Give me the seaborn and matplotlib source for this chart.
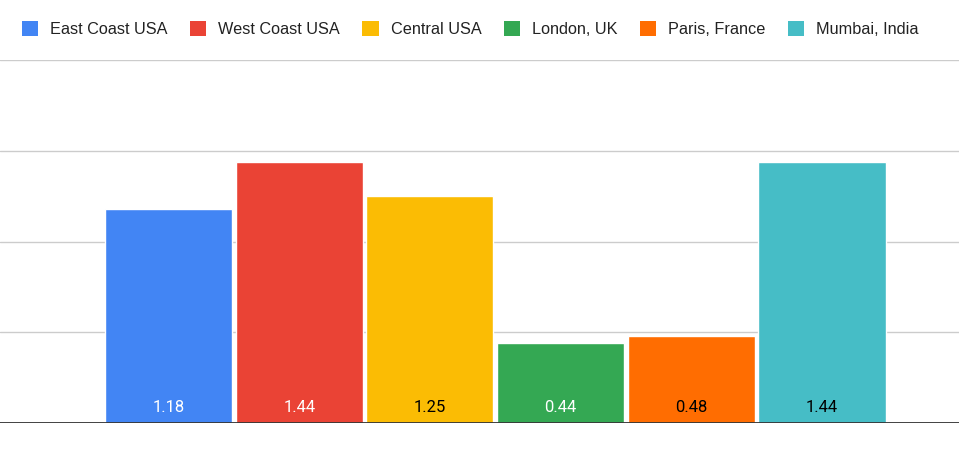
import matplotlib
matplotlib.use("Agg")
import matplotlib.pyplot as plt
import matplotlib.patches as mpatches
import seaborn as sns
import pandas as pd

# Chart data
cities = ['East Coast USA', 'West Coast USA', 'Central USA', 'London, UK', 'Paris, France', 'Mumbai, India']
values = [1.18, 1.44, 1.25, 0.44, 0.48, 1.44]
y_grid = [0.5, 1.0, 1.5, 2.0]

palette = ['#4285F4', '#EA4335', '#FBBC04', '#34A853', '#FF6D01', '#46BDC6']
label_colors = ['white', 'white', 'black', 'white', 'black', 'black']

df = pd.DataFrame({'city': cities, 'value': values})

sns.set_theme(style='white')
plt.rcParams['font.family'] = ['Liberation Sans', 'DejaVu Sans']

fig = plt.figure(figsize=(9.59, 4.5), dpi=100)
ax = fig.add_axes([0, 27 / 450, 1, 363 / 450])

sns.barplot(data=df, x='city', y='value', hue='city', palette=dict(zip(cities, palette)),
            width=0.972, legend=False, saturation=1, ax=ax)

ax.set_xlim(-1.289, 6.048)
ax.set_ylim(0, 2.0)

for g in y_grid:
    ax.axhline(g, color='#cccccc', lw=1.0, zorder=0)
ax.axhline(0, color='#333333', lw=1.3, zorder=3)

for spine in ax.spines.values():
    spine.set_visible(False)
ax.set_xticks([])
ax.set_yticks([])
ax.set_xlabel('')
ax.set_ylabel('')

# value labels near the bottom of each bar
for i, (v, c) in enumerate(zip(values, label_colors)):
    ax.annotate(f'{v:.2f}', xy=(i, 0), xytext=(0, 15 * 0.72), textcoords='offset points',
                ha='center', va='center', fontsize=12, color=c, family=['Roboto', 'DejaVu Sans'])

# legend across the top
handles = [mpatches.Patch(facecolor=col, edgecolor='none', label=name) for name, col in zip(cities, palette)]
fig.legend(handles=handles, loc='center left', bbox_to_anchor=(22 / 959, 1 - 29 / 450),
           ncol=6, frameon=False, fontsize=11.7, handlelength=1.0, handleheight=1.0,
           handletextpad=0.75, columnspacing=1.36, borderpad=0, borderaxespad=0,
           labelcolor='#222222')

fig.savefig('out.png', dpi=100)
